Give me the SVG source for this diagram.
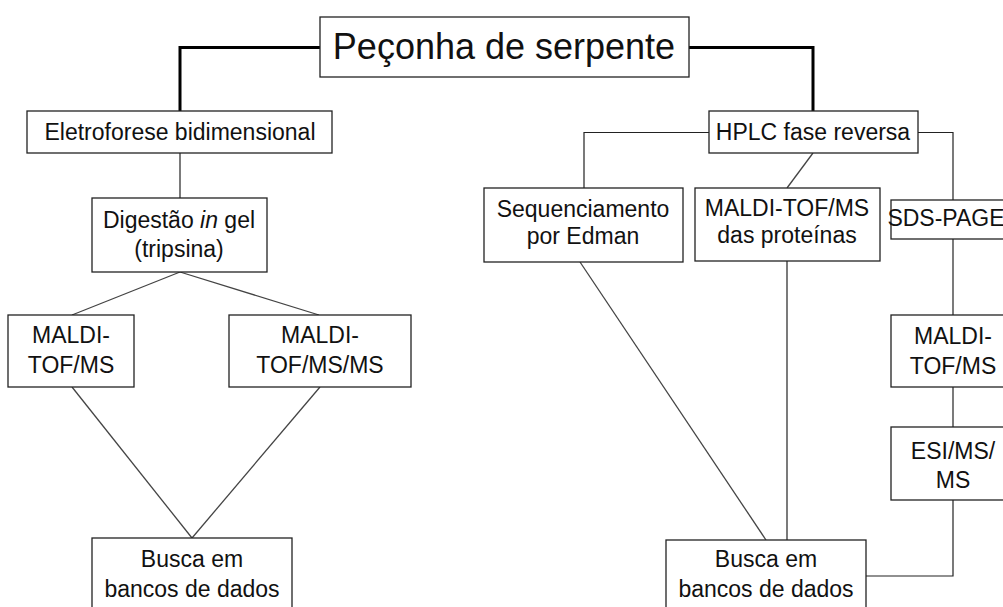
<svg xmlns="http://www.w3.org/2000/svg" width="1003" height="607" viewBox="0 0 1003 607">
<style>
.box{fill:#fff;stroke:#222;stroke-width:1.3}
.t{font-family:"Liberation Sans",Arial,sans-serif;font-size:23px;fill:#111;text-anchor:middle}
.title{font-size:36px}
.thick{fill:none;stroke:#000;stroke-width:3}
.thin{fill:none;stroke:#222;stroke-width:1.2}
.diag{fill:none;stroke:#444;stroke-width:1.3}
</style>
<rect width="1003" height="607" fill="#fff"/>
<g id="connectors">
<polyline class="thick" points="320,47.5 180,47.5 180,111"/>
<polyline class="thick" points="689,47.5 813,47.5 813,111"/>
<line class="thin" x1="180" y1="153" x2="180" y2="198"/>
<line class="diag" x1="180" y1="272" x2="72" y2="315"/>
<line class="diag" x1="180" y1="272" x2="319" y2="315"/>
<line class="diag" x1="72" y1="387" x2="192" y2="538"/>
<line class="diag" x1="320" y1="387" x2="192" y2="538"/>
<polyline class="thin" points="709,132.5 584,132.5 584,188"/>
<line class="diag" x1="813" y1="153" x2="787" y2="188"/>
<polyline class="thin" points="918,132.5 953,132.5 953,200"/>
<line class="thin" x1="953" y1="239" x2="953" y2="315"/>
<line class="thin" x1="953" y1="387" x2="953" y2="427"/>
<polyline class="thin" points="953,500 953,576 866,576"/>
<line class="thin" x1="787" y1="261" x2="787" y2="540"/>
<line class="diag" x1="580" y1="262" x2="766" y2="540"/>
</g>
<g id="n-title">
<rect class="box" x="320" y="17" width="369" height="60"/>
<text class="t title" x="504" y="59">Peçonha de serpente</text>
</g>
<g id="n-eletroforese">
<rect class="box" x="27" y="111" width="305" height="42"/>
<text class="t" x="180" y="140">Eletroforese bidimensional</text>
</g>
<g id="n-digestao">
<rect class="box" x="92" y="198" width="175" height="74"/>
<text class="t" x="179" y="228">Digestão <tspan font-style="italic">in</tspan> gel</text>
<text class="t" x="179" y="257">(tripsina)</text>
</g>
<g id="n-maldi-left">
<rect class="box" x="8" y="315" width="126" height="72"/>
<text class="t" x="71" y="343">MALDI-</text>
<text class="t" x="71" y="373">TOF/MS</text>
</g>
<g id="n-maldi-msms">
<rect class="box" x="229" y="315" width="182" height="72"/>
<text class="t" x="320" y="343">MALDI-</text>
<text class="t" x="320" y="373">TOF/MS/MS</text>
</g>
<g id="n-busca-left">
<rect class="box" x="92" y="538" width="200" height="90"/>
<text class="t" x="192" y="567">Busca em</text>
<text class="t" x="192" y="597">bancos de dados</text>
</g>
<g id="n-hplc">
<rect class="box" x="709" y="111" width="209" height="42"/>
<text class="t" x="813" y="140">HPLC fase reversa</text>
</g>
<g id="n-sequenciamento">
<rect class="box" x="484" y="188" width="199" height="74"/>
<text class="t" x="583" y="217">Sequenciamento</text>
<text class="t" x="583" y="244">por Edman</text>
</g>
<g id="n-maldi-proteinas">
<rect class="box" x="695" y="188" width="185" height="73"/>
<text class="t" x="787" y="216">MALDI-TOF/MS</text>
<text class="t" x="787" y="243">das proteínas</text>
</g>
<g id="n-sds">
<rect class="box" x="891" y="200" width="124" height="39"/>
<text class="t" x="946" y="226" font-size="20">SDS-PAGE</text>
</g>
<g id="n-maldi-right">
<rect class="box" x="891" y="315" width="124" height="72"/>
<text class="t" x="953" y="344">MALDI-</text>
<text class="t" x="953" y="374">TOF/MS</text>
</g>
<g id="n-esi">
<rect class="box" x="891" y="427" width="124" height="73"/>
<text class="t" x="953" y="459">ESI/MS/</text>
<text class="t" x="953" y="488">MS</text>
</g>
<g id="n-busca-right">
<rect class="box" x="666" y="540" width="200" height="90"/>
<text class="t" x="766" y="567">Busca em</text>
<text class="t" x="766" y="597">bancos de dados</text>
</g>
</svg>
